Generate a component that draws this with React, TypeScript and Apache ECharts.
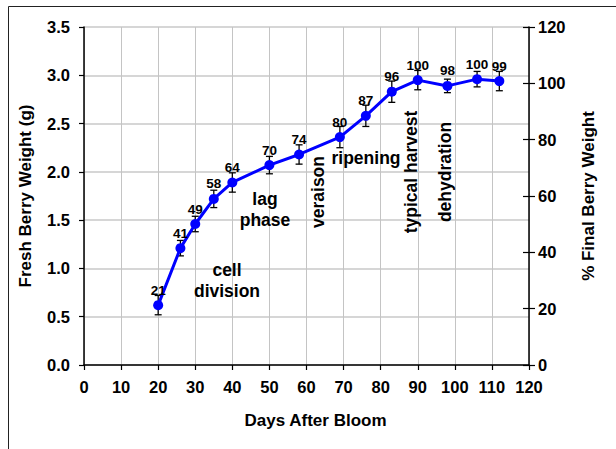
import React, { useEffect, useRef } from "react";
import * as echarts from "echarts";

const days = [20, 26, 30, 35, 40, 50, 58, 69, 76, 83, 90, 98, 106, 112];
const weight = [0.62, 1.21, 1.46, 1.72, 1.89, 2.07, 2.18, 2.36, 2.58, 2.83, 2.95, 2.89, 2.96, 2.94];
const errors = [0.10, 0.08, 0.08, 0.09, 0.10, 0.09, 0.10, 0.11, 0.11, 0.11, 0.10, 0.07, 0.08, 0.10];
const pctFinal = [21, 41, 49, 58, 64, 70, 74, 80, 87, 96, 100, 98, 100, 99];

const stageLabels = [
  { text: "cell\ndivision", x: 227, y: 280, rot: 0 },
  { text: "lag\nphase", x: 265, y: 209, rot: 0 },
  { text: "veraison", x: 318, y: 192, rot: 90 },
  { text: "ripening", x: 366, y: 158, rot: 0 },
  { text: "typical harvest", x: 411, y: 172, rot: 90 },
  { text: "dehydration", x: 445, y: 172, rot: 90 },
];

const FONT = "'Liberation Sans', Arial, sans-serif";

export default function App() {
  const ref = useRef<HTMLDivElement>(null);
  useEffect(() => {
    if (!ref.current) return;
    const chart = echarts.init(ref.current, null, { renderer: "svg" });
    const lineData = days.map((d, i) => [d, weight[i]]);
    const errData = days.map((d, i) => [d, weight[i], errors[i]]);
    chart.setOption({
      animation: false,
      textStyle: { fontFamily: FONT },
      grid: { left: 84, right: 87, top: 27, bottom: 84 },
      xAxis: {
        type: "value",
        min: 0,
        max: 120,
        interval: 10,
        name: "Days After Bloom",
        nameLocation: "middle",
        nameGap: 47,
        nameTextStyle: {
          fontSize: 17,
          fontWeight: "bold",
          color: "#000",
          fontFamily: FONT,
          padding: [0, 0, 0, 18],
        },
        axisLine: { show: true, lineStyle: { color: "#000", width: 1.5 } },
        axisTick: { show: true, length: 5, lineStyle: { color: "#000", width: 1.2 } },
        axisLabel: { fontSize: 16.5, fontWeight: "bold", color: "#000", margin: 13, fontFamily: FONT },
        splitLine: { show: true, lineStyle: { color: "#c4c4c4", width: 1 } },
      },
      yAxis: [
        {
          type: "value",
          min: 0,
          max: 3.5,
          interval: 0.5,
          name: "Fresh Berry Weight (g)",
          nameLocation: "middle",
          nameRotate: 90,
          nameGap: 50,
          nameTextStyle: { fontSize: 17, fontWeight: "bold", color: "#000", fontFamily: FONT },
          axisLine: { show: true, lineStyle: { color: "#000", width: 1.5 } },
          axisTick: { show: true, length: 5, lineStyle: { color: "#000", width: 1.2 } },
          axisLabel: {
            fontSize: 16.5,
            fontWeight: "bold",
            color: "#000",
            margin: 14,
            fontFamily: FONT,
            formatter: (v: number) => v.toFixed(1),
          },
          splitLine: { show: true, lineStyle: { color: "#d6d6d6", width: 2 } },
        },
        {
          type: "value",
          min: 0,
          max: 120,
          interval: 20,
          position: "right",
          name: "% Final Berry Weight",
          nameLocation: "middle",
          nameRotate: 90,
          nameGap: 51,
          nameTextStyle: { fontSize: 17, fontWeight: "bold", color: "#000", fontFamily: FONT },
          axisLine: { show: true, lineStyle: { color: "#000", width: 1.5 } },
          axisTick: { show: true, inside: false, length: 6, lineStyle: { color: "#000", width: 1.2 } },
          axisLabel: { fontSize: 16.5, fontWeight: "bold", color: "#000", margin: 9, fontFamily: FONT },
          splitLine: { show: false },
        },
        {
          type: "value",
          min: 0,
          max: 120,
          interval: 20,
          position: "right",
          axisLine: { show: false },
          axisTick: { show: true, inside: true, length: 6, lineStyle: { color: "#000", width: 1.2 } },
          axisLabel: { show: false },
          splitLine: { show: false },
        },
      ],
      series: [
        {
          type: "custom",
          z: 3,
          data: errData,
          renderItem: (params: any, api: any) => {
            const x = api.value(0);
            const y = api.value(1);
            const e = api.value(2);
            const top = api.coord([x, y + e]);
            const bot = api.coord([x, y - e]);
            const hw = 3.5;
            const st = { stroke: "#000", lineWidth: 1.3 };
            return {
              type: "group",
              children: [
                { type: "line", shape: { x1: top[0], y1: top[1], x2: bot[0], y2: bot[1] }, style: st },
                { type: "line", shape: { x1: top[0] - hw, y1: top[1], x2: top[0] + hw, y2: top[1] }, style: st },
                { type: "line", shape: { x1: bot[0] - hw, y1: bot[1], x2: bot[0] + hw, y2: bot[1] }, style: st },
              ],
            };
          },
        },
        {
          type: "line",
          z: 4,
          data: lineData,
          symbol: "circle",
          symbolSize: 10,
          lineStyle: { color: "#0000ff", width: 3 },
          itemStyle: { color: "#0000ff" },
          label: {
            show: true,
            position: "top",
            distance: 3,
            fontSize: 13.5,
            fontWeight: "bold",
            color: "#000",
            fontFamily: FONT,
            formatter: (p: any) => String(pctFinal[p.dataIndex]),
          },
        },
      ],
      graphic: [
        {
          type: "rect",
          silent: true,
          z: 100,
          shape: { x: 8.5, y: 6.5, width: 700, height: 600 },
          style: { fill: "none", stroke: "#222", lineWidth: 1 },
        },
        ...stageLabels.map((s) => ({
          type: "text",
          z: 100,
          x: s.x,
          y: s.y,
          rotation: (s.rot * Math.PI) / 180,
          style: {
            text: s.text,
            fontSize: 17.5,
            fontWeight: "bold",
            fill: "#000",
            fontFamily: FONT,
            align: "center",
            verticalAlign: "middle",
            lineHeight: 21,
          },
        })),
      ],
    });
    return () => chart.dispose();
  }, []);
  return (
    <div
      ref={ref}
      style={{ position: "fixed", left: 0, top: 0, width: 616, height: 449, background: "#fff" }}
    />
  );
}
